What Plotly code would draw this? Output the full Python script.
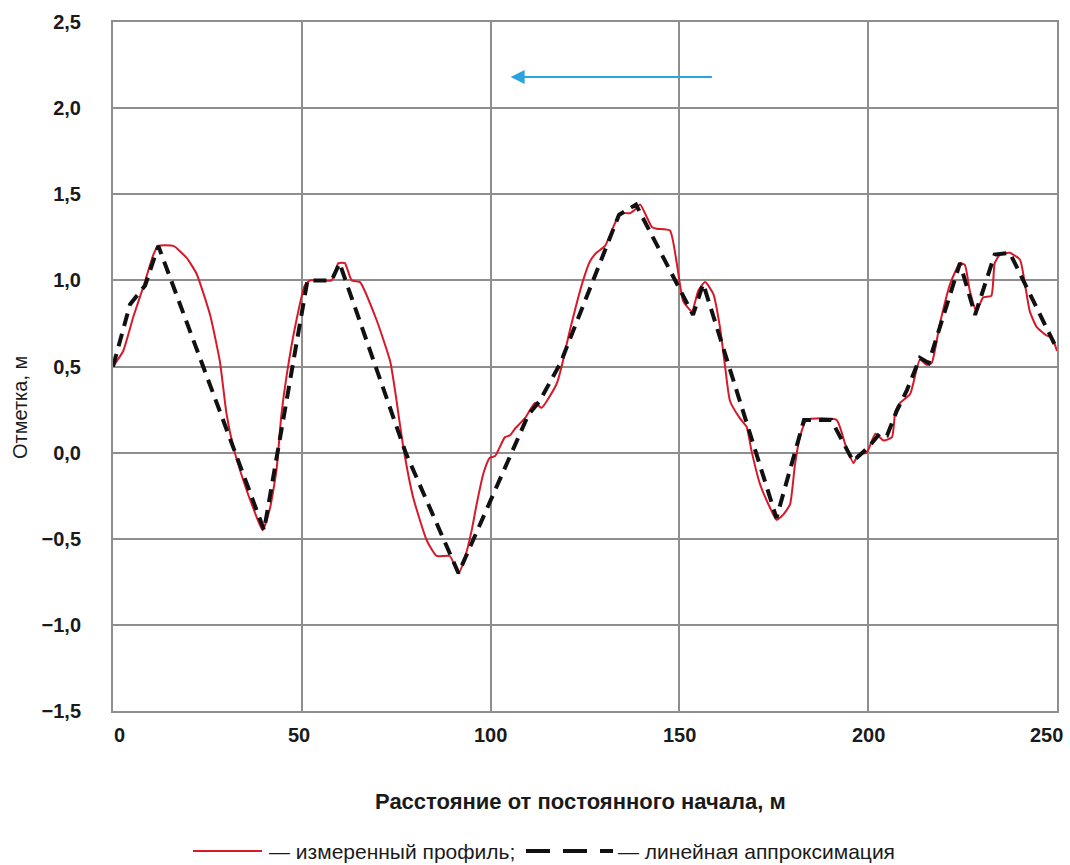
import plotly.graph_objects as go

# Measured profile (red)
red_x = [0, 2.7, 5.4, 8, 10.7, 12, 16, 19.5, 22.1, 25.7, 28.3, 30.1, 31.9, 34.5, 37.1, 39.6, 41.6, 43.3, 44.6, 46,
         48.4, 50.8, 52.2, 57.9, 59.7, 61.4, 63.2, 65.4, 69.8, 73.4, 74.7, 76.9, 79.5, 83.1, 85.7, 89.2, 91.5, 93.2,
         95, 96.3, 98.1, 99.8, 101.2, 103.8, 105.1, 106.5, 109.1, 111.8, 113.5, 117.5, 118.8, 121, 124.5, 126.3, 128,
         130.3, 132.9, 134.3, 136.9, 138.2, 139.6, 142.7, 144, 147.5, 149.3, 151, 153.3, 155, 156.8, 159, 160.8,
         162.1, 163.4, 166, 167.8, 169.1, 171.3, 174, 175.7, 177.5, 179.3, 180.6, 181.9, 183.7, 191.6, 193.9, 196.1,
         197.4, 199.6, 201.9, 204.1, 206.3, 207.2, 208.5, 211.1, 213.7, 215.5, 216.8, 219, 221.7, 224.3, 225.6, 226.9,
         228.7, 230.4, 232.6, 233.5, 234.9, 237.5, 240.2, 241.5, 242.8, 244.6, 247.2, 248.6, 250]
red_y = [0.5, 0.59, 0.79, 0.96, 1.15, 1.2, 1.2, 1.13, 1.04, 0.8, 0.53, 0.22, 0.03, -0.16, -0.32, -0.45, -0.32, -0.1,
         0.22, 0.45, 0.75, 0.97, 1.0, 1.0, 1.1, 1.1, 1.0, 0.99, 0.77, 0.53, 0.36, 0.03, -0.26, -0.51, -0.6, -0.6, -0.7,
         -0.61, -0.45, -0.3, -0.12, -0.03, -0.02, 0.09, 0.1, 0.14, 0.2, 0.29, 0.26, 0.4, 0.5, 0.71, 1.0, 1.11, 1.16,
         1.2, 1.33, 1.39, 1.39, 1.41, 1.44, 1.31, 1.3, 1.29, 1.1, 0.88, 0.82, 0.94, 0.99, 0.92, 0.72, 0.5, 0.3, 0.2,
         0.15, 0.01, -0.18, -0.32, -0.39, -0.36, -0.3, -0.07, 0.09, 0.19, 0.19, 0.05, -0.06, -0.01, 0.0, 0.11, 0.07,
         0.09, 0.24, 0.29, 0.34, 0.54, 0.51, 0.52, 0.75, 0.98, 1.1, 1.09, 0.94, 0.82, 0.9, 0.91, 1.1, 1.15, 1.16, 1.12,
         0.98, 0.82, 0.73, 0.68, 0.67, 0.59]

# Linear approximation (black dashed)
blk_x = [0, 4.5, 8.5, 12, 40, 51.5, 57.9, 60, 77.5, 91.5, 110, 113, 118.5, 134, 138.5, 153.6, 156.3, 175.7, 183,
         190.2, 196, 200, 203, 205, 207.5, 210.2, 213.7, 216, 224.3, 228.3, 233.5, 237.5, 250]
blk_y = [0.5, 0.86, 0.97, 1.2, -0.45, 1.0, 1.0, 1.1, 0.0, -0.7, 0.22, 0.3, 0.52, 1.38, 1.44, 0.8, 0.98, -0.38, 0.19,
         0.19, -0.05, 0.03, 0.11, 0.1, 0.24, 0.36, 0.55, 0.52, 1.1, 0.8, 1.15, 1.16, 0.6]

x_ticks = [0, 50, 100, 150, 200, 250]
x_ticktext = ["0", "50", "100", "150", "200", "250"]
x_tick_shift = [6, -3, 0, 0, 0, -11]  # label nudges, as placed in the reference
y_ticks = [2.5, 2.0, 1.5, 1.0, 0.5, 0.0, -0.5, -1.0, -1.5]
y_ticktext = ["2,5", "2,0", "1,5", "1,0", "0,5", "0,0", "\u22120,5", "\u22121,0", "\u22121,5"]

x_title = "Расстояние от постоянного начала, м"
y_title = "Отметка, м"
legend_names = ["\u2014 измеренный профиль;", "\u2014 линейная аппроксимация"]

arrow_from = (159, 2.18)
arrow_to = (105.3, 2.18)

RED = "#d7192a"
BLACK = "#111111"
GRID = "#8e8e8e"
TXT = "#1a1a1a"
FONT = "Liberation Sans, Arial"

# body margin is removed by the post script, so figure coords = page coords
W, H = 1070, 865
L, T, R, B = 113, 22, 13, 154
PW = W - L - R
PH = H - T - B


def px_x(p):  # page pixel -> paper x
    return (p - L) / PW


def px_y(p):  # page pixel -> paper y
    return 1 - (p - T) / PH


fig = go.Figure()
fig.add_trace(go.Scatter(x=red_x, y=red_y, mode="lines", name=legend_names[0],
                         line=dict(color=RED, width=2, shape="spline", smoothing=0.5), showlegend=False))
fig.add_trace(go.Scatter(x=blk_x, y=blk_y, mode="lines", name=legend_names[1],
                         line=dict(color=BLACK, width=4, dash="13px,8px"), showlegend=False))

fig.add_annotation(x=arrow_to[0], y=arrow_to[1], ax=arrow_from[0], ay=arrow_from[1],
                   xref="x", yref="y", axref="x", ayref="y", text="", showarrow=True,
                   arrowhead=2, arrowsize=1.4, arrowwidth=2, arrowcolor="#2aa3de")

# x tick labels
for v, t, s in zip(x_ticks, x_ticktext, x_tick_shift):
    fig.add_annotation(x=v, y=px_y(735), xref="x", yref="paper", text=t, showarrow=False,
                       xanchor="center", yanchor="middle", xshift=s,
                       font=dict(size=20, family=FONT, color=TXT, weight="bold"))

# y-axis title
fig.add_annotation(text=y_title, textangle=-90, xref="paper", yref="paper", x=px_x(20), y=px_y(408),
                   xanchor="center", yanchor="middle", showarrow=False,
                   font=dict(size=20, family=FONT, color=TXT))

# x-axis title
fig.add_annotation(text=x_title, xref="paper", yref="paper", x=px_x(580), y=px_y(801),
                   xanchor="center", yanchor="middle", showarrow=False,
                   font=dict(size=22, family=FONT, color=TXT, weight="bold"))

# custom legend (below chart)
LY = px_y(851)
fig.add_shape(type="line", xref="paper", yref="paper", x0=px_x(193), x1=px_x(262), y0=LY, y1=LY,
              line=dict(color=RED, width=2))
fig.add_annotation(text=legend_names[0], xref="paper", yref="paper", x=px_x(267), y=LY,
                   xanchor="left", yanchor="middle", showarrow=False,
                   font=dict(size=21, family=FONT, color=TXT))
fig.add_shape(type="line", xref="paper", yref="paper", x0=px_x(526), x1=px_x(613), y0=LY, y1=LY,
              line=dict(color=BLACK, width=4, dash="24px,13px"))
fig.add_annotation(text=legend_names[1], xref="paper", yref="paper", x=px_x(616), y=LY,
                   xanchor="left", yanchor="middle", showarrow=False,
                   font=dict(size=21, family=FONT, color=TXT))

fig.update_layout(
    width=W, height=H,
    margin=dict(l=L, r=R, t=T, b=B),
    paper_bgcolor="white", plot_bgcolor="white",
    font=dict(family=FONT, color=TXT),
    showlegend=False,
    xaxis=dict(range=[0, 250], tickvals=x_ticks, showticklabels=False, showgrid=True, gridcolor=GRID, gridwidth=2,
               showline=True, linecolor=GRID, linewidth=2, mirror=True, zeroline=False, ticks="",
               automargin=False),
    yaxis=dict(range=[-1.5, 2.5], tickvals=y_ticks, ticktext=y_ticktext, showgrid=True, gridcolor=GRID, gridwidth=2,
               showline=True, linecolor=GRID, linewidth=2, mirror=True, zeroline=False, ticks="",
               automargin=False, ticklabeloverflow="allow", ticklabelstandoff=26,
               tickfont=dict(size=20, family=FONT, weight="bold")),
)

fig.write_html("out.html", config={"displayModeBar": False},
               post_script="document.body.style.margin='0';document.body.style.overflow='hidden';")
